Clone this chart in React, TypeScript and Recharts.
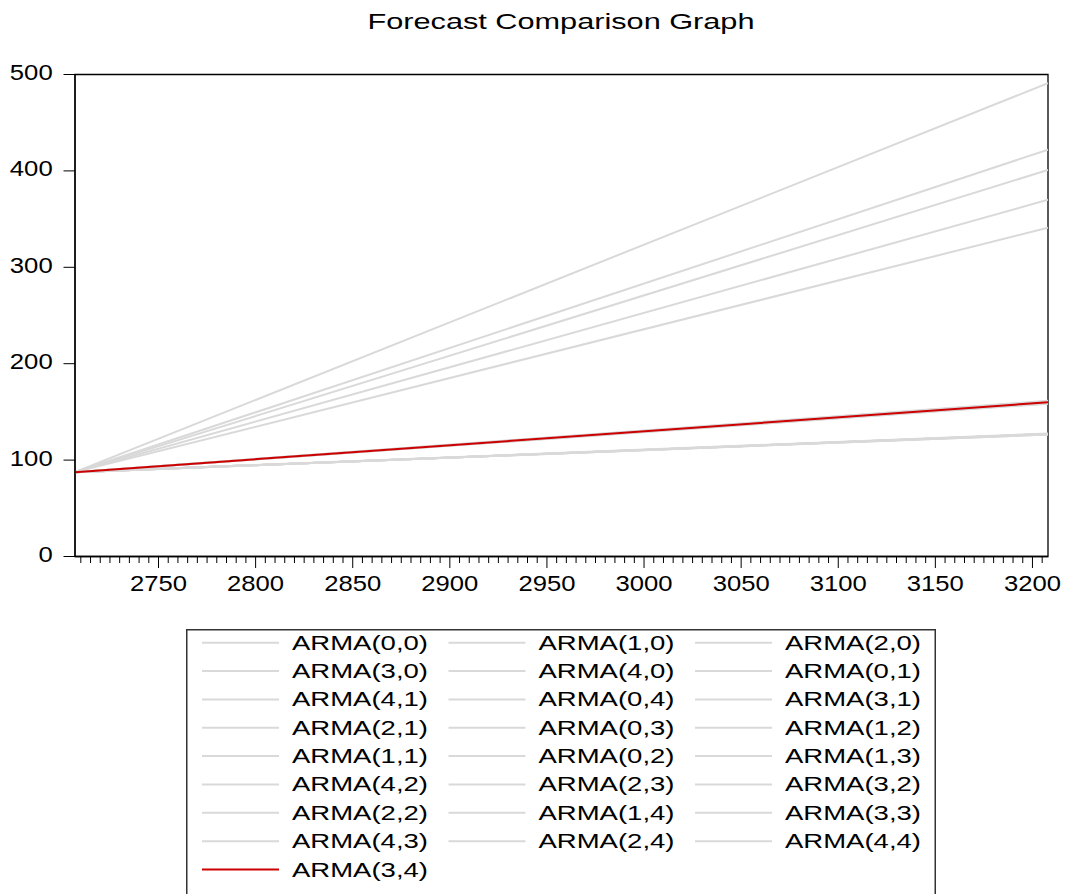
import { LineChart, Line, XAxis, YAxis, ReferenceArea, Legend } from 'recharts'

const FONT = '"Liberation Sans", Arial, sans-serif'

// first and last forecast period (the forecasts are straight lines)
const periods = [2707, 3208]

const seriesNames = [
  'ARMA(0,0)', 'ARMA(1,0)', 'ARMA(2,0)',
  'ARMA(3,0)', 'ARMA(4,0)', 'ARMA(0,1)',
  'ARMA(4,1)', 'ARMA(0,4)', 'ARMA(3,1)',
  'ARMA(2,1)', 'ARMA(0,3)', 'ARMA(1,2)',
  'ARMA(1,1)', 'ARMA(0,2)', 'ARMA(1,3)',
  'ARMA(4,2)', 'ARMA(2,3)', 'ARMA(3,2)',
  'ARMA(2,2)', 'ARMA(1,4)', 'ARMA(3,3)',
  'ARMA(4,3)', 'ARMA(2,4)', 'ARMA(4,4)',
  'ARMA(3,4)',
]

const startValues = [
  87.5, 87.5, 87.5, 87.5, 87.5, 87.5, 87.5, 87.5, 87.5, 87.5, 87.5, 87.5, 87.5,
  87.5, 87.5, 87.5, 87.5, 87.5, 87.5, 87.5, 87.5, 87.5, 87.5, 87.5, 87.5,
]

const endValues = [
  127, 491, 422, 401, 370, 127,
  341, 127, 160, 159, 127, 161.5,
  160, 126.5, 160.5, 159.5, 127.5, 160,
  158.5, 127, 161, 159, 126.5, 160,
  160,
]

const highlighted = 'ARMA(3,4)'

const yTicks = [0, 100, 200, 300, 400, 500]
const xMajorTicks = [2750, 2800, 2850, 2900, 2950, 3000, 3050, 3100, 3150, 3200]
const xMinorStep = 5

const data = periods.map((period, i) => {
  const row: Record<string, number> = { period }
  seriesNames.forEach((name, s) => {
    row[name] = i === 0 ? startValues[s] : endValues[s]
  })
  return row
})

const xTicks: number[] = []
for (let t = Math.ceil(periods[0] / xMinorStep) * xMinorStep; t <= periods[1]; t += xMinorStep) {
  xTicks.push(t)
}

function XTick({ x, y, payload }: any) {
  const v = payload.value
  const major = xMajorTicks.includes(v)
  return (
    <g>
      <line x1={x} x2={x} y1={y} y2={y + (major ? 11.5 : 6.5)} stroke="#000" strokeWidth={1} />
      {major && (
        <text
          x={x}
          y={y + 34.5}
          textAnchor="middle"
          fontSize={22.5}
          fontFamily={FONT}
          fill="#000"
          textLength={57}
          lengthAdjust="spacingAndGlyphs"
        >
          {v}
        </text>
      )}
    </g>
  )
}

function YTick({ x, y, payload }: any) {
  const label = String(payload.value)
  return (
    <g>
      <line x1={x - 11.5} x2={x} y1={y} y2={y} stroke="#000" strokeWidth={1} />
      <text
        x={x - 22.3}
        y={y + 5.5}
        textAnchor="end"
        fontSize={22}
        fontFamily={FONT}
        fill="#000"
        textLength={label.length * 14.3}
        lengthAdjust="spacingAndGlyphs"
      >
        {label}
      </text>
    </g>
  )
}

function ForecastLegend({ payload }: any) {
  const byName = new Map((payload ?? []).map((p: any) => [p.value, p]))
  return (
    <svg width={752} height={270} style={{ display: 'block' }}>
      <rect x={0.75} y={0.75} width={748.5} height={290} fill="#fff" stroke="#333" strokeWidth={1.5} />
      {seriesNames.map((name, i) => {
        const item: any = byName.get(name)
        const col = i % 3
        const row = Math.floor(i / 3)
        const lx = 16 + col * 246.5
        const ly = 13.7 + row * 28.35
        return (
          <g key={name}>
            <line x1={lx} x2={lx + 77} y1={ly} y2={ly} stroke={item?.color ?? '#d9d9d9'} strokeWidth={2} />
            <text
              x={lx + 90}
              y={ly + 7}
              fontSize={21}
              fontFamily={FONT}
              fill="#000"
              textLength={136}
              lengthAdjust="spacingAndGlyphs"
            >
              {name}
            </text>
          </g>
        )
      })}
    </svg>
  )
}

export default function App() {
  return (
    <div
      style={{
        position: 'absolute',
        left: 0,
        top: 0,
        width: 1068,
        height: 894,
        overflow: 'hidden',
        background: '#fff',
        fontFamily: FONT,
      }}
    >
      <LineChart
        width={1068}
        height={894}
        data={data}
        margin={{ top: 74.5, right: 20, left: 0, bottom: 297.5 }}
      >
        <XAxis
          dataKey="period"
          type="number"
          domain={periods}
          allowDataOverflow
          ticks={xTicks}
          interval={0}
          tick={<XTick />}
          tickLine={false}
          tickSize={0}
          tickMargin={0}
          height={40}
          axisLine={{ stroke: '#000', strokeWidth: 1.3 }}
        />
        <YAxis
          type="number"
          domain={[0, 500]}
          allowDataOverflow
          ticks={yTicks}
          interval={0}
          tick={<YTick />}
          tickLine={false}
          tickSize={0}
          tickMargin={0}
          width={75}
          axisLine={{ stroke: '#000', strokeWidth: 1.3 }}
        />
        <ReferenceArea
          x1={periods[0]}
          x2={periods[1]}
          y1={0}
          y2={500}
          fill="none"
          stroke="#000"
          strokeWidth={1.3}
          ifOverflow="visible"
        />
        {seriesNames.map((name) => (
          <Line
            key={name}
            type="linear"
            dataKey={name}
            name={name}
            stroke={name === highlighted ? '#cc0000' : '#d9d9d9'}
            strokeWidth={2}
            dot={false}
            activeDot={false}
            isAnimationActive={false}
          />
        ))}
        <Legend
          layout="horizontal"
          verticalAlign="middle"
          align="center"
          content={<ForecastLegend />}
          wrapperStyle={{ position: 'absolute', left: 186, top: 629, width: 752, height: 270 }}
        />
      </LineChart>
      <svg
        width={1068}
        height={45}
        style={{ position: 'absolute', left: 0, top: 0, pointerEvents: 'none' }}
      >
        <text
          x={561}
          y={28.5}
          textAnchor="middle"
          fontSize={22}
          fontFamily={FONT}
          fill="#000"
          textLength={387}
          lengthAdjust="spacingAndGlyphs"
        >
          Forecast Comparison Graph
        </text>
      </svg>
    </div>
  )
}
